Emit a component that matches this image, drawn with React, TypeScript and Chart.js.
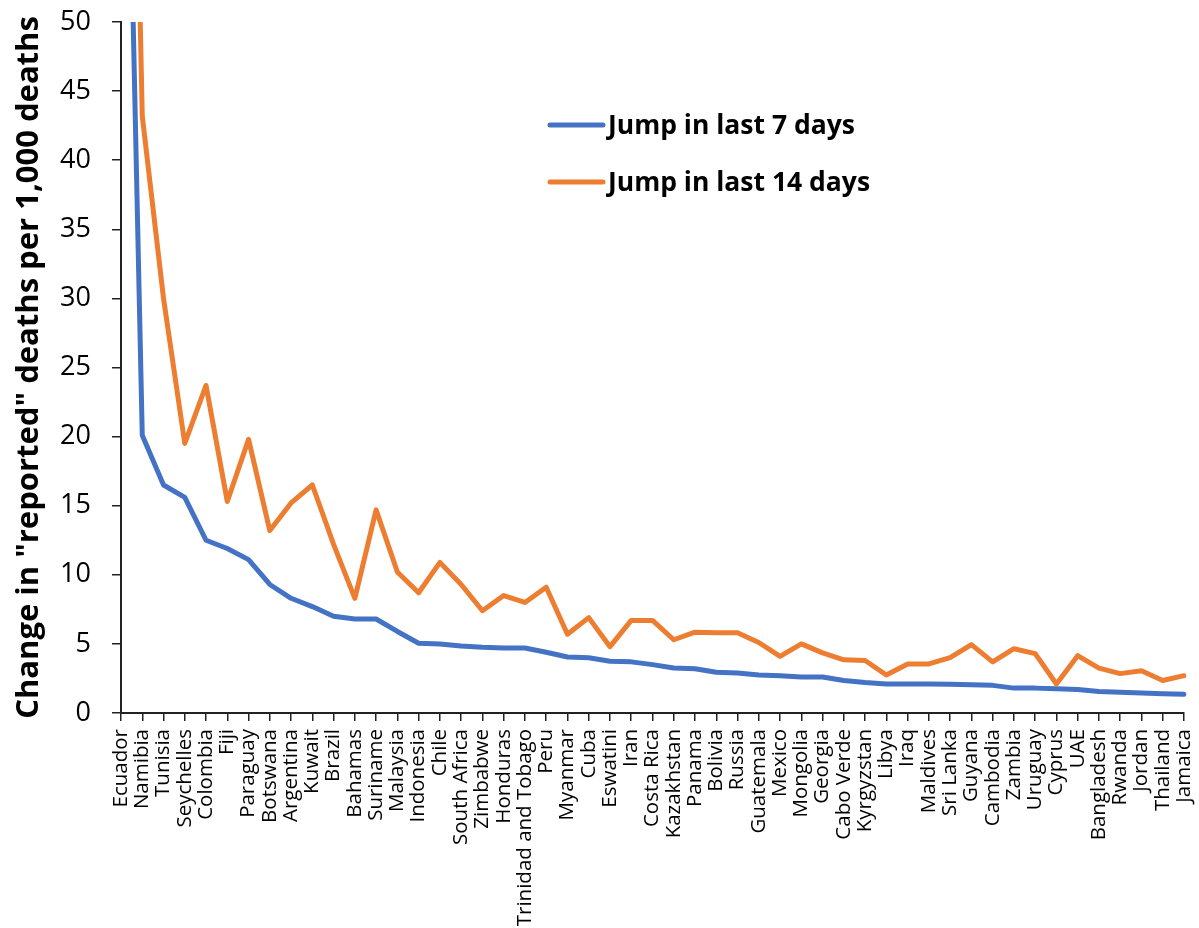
import React, { useEffect, useRef } from "react";
import { Chart, registerables } from "chart.js";

Chart.register(...registerables);

const countries = [
  "Ecuador", "Namibia", "Tunisia", "Seychelles", "Colombia", "Fiji", "Paraguay", "Botswana",
  "Argentina", "Kuwait", "Brazil", "Bahamas", "Suriname", "Malaysia", "Indonesia", "Chile",
  "South Africa", "Zimbabwe", "Honduras", "Trinidad and Tobago", "Peru", "Myanmar", "Cuba",
  "Eswatini", "Iran", "Costa Rica", "Kazakhstan", "Panama", "Bolivia", "Russia", "Guatemala",
  "Mexico", "Mongolia", "Georgia", "Cabo Verde", "Kyrgyzstan", "Libya", "Iraq", "Maldives",
  "Sri Lanka", "Guyana", "Cambodia", "Zambia", "Uruguay", "Cyprus", "UAE", "Bangladesh",
  "Rwanda", "Jordan", "Thailand", "Jamaica",
];

const jump7 = [
  90, 20.1, 16.5, 15.6, 12.5, 11.9, 11.1, 9.3, 8.3, 7.7, 7.0, 6.8, 6.8, 5.9, 5.05, 5.0,
  4.85, 4.75, 4.7, 4.7, 4.4, 4.05, 4.0, 3.75, 3.7, 3.5, 3.25, 3.2, 2.95, 2.9, 2.75,
  2.7, 2.6, 2.6, 2.35, 2.2, 2.1, 2.1, 2.1, 2.08, 2.05, 2.0, 1.8, 1.8, 1.75, 1.7, 1.55,
  1.5, 1.45, 1.4, 1.35,
];

const jump14 = [
  115, 43.2, 30.0, 19.5, 23.7, 15.3, 19.8, 13.2, 15.2, 16.5, 12.2, 8.3, 14.7, 10.2, 8.7, 10.9,
  9.3, 7.4, 8.5, 8.0, 9.1, 5.7, 6.9, 4.8, 6.7, 6.7, 5.3, 5.85, 5.8, 5.8, 5.1,
  4.1, 5.0, 4.35, 3.85, 3.8, 2.75, 3.55, 3.55, 4.0, 4.95, 3.7, 4.65, 4.3, 2.1, 4.15, 3.25,
  2.85, 3.05, 2.35, 2.7,
];

const seriesLabels = ["Jump in last 7 days", "Jump in last 14 days"];
const seriesColors = ["#4472C4", "#ED7D31"];
const yTitle = 'Change in "reported" deaths per 1,000 deaths';

const legendPlugin = {
  id: "insideLegend",
  afterDraw(chart: any) {
    const ctx = chart.ctx;
    const items = [
      { x: 550, y: 125 },
      { x: 550, y: 182 },
    ];
    ctx.save();
    chart.data.datasets.forEach((ds: any, i: number) => {
      const p = items[i];
      ctx.strokeStyle = ds.borderColor;
      ctx.lineWidth = 5;
      ctx.lineCap = "round";
      ctx.beginPath();
      ctx.moveTo(p.x, p.y);
      ctx.lineTo(p.x + 53, p.y);
      ctx.stroke();
      ctx.fillStyle = "#000";
      ctx.font = "bold 26.5px 'Open Sans'";
      ctx.textBaseline = "middle";
      ctx.textAlign = "left";
      ctx.fillText(ds.label, p.x + 58, p.y + 1);
    });
    ctx.restore();
  },
};

export default function App() {
  const ref = useRef<HTMLCanvasElement | null>(null);
  useEffect(() => {
    if (!ref.current) return;
    const chart = new Chart(ref.current, {
      type: "line",
      data: {
        labels: countries,
        datasets: [
          {
            label: seriesLabels[0],
            data: jump7,
            borderColor: seriesColors[0],
            backgroundColor: seriesColors[0],
            borderWidth: 5,
            pointRadius: 0,
            tension: 0,
            borderJoinStyle: "round",
            borderCapStyle: "round",
            order: 1,
          },
          {
            label: seriesLabels[1],
            data: jump14,
            borderColor: seriesColors[1],
            backgroundColor: seriesColors[1],
            borderWidth: 5,
            pointRadius: 0,
            tension: 0,
            borderJoinStyle: "round",
            borderCapStyle: "round",
            order: 0,
          },
        ],
      },
      options: {
        animation: false,
        responsive: true,
        maintainAspectRatio: false,
        layout: { padding: { top: 22, right: 15, left: 0, bottom: 0 } },
        plugins: {
          legend: { display: false },
          tooltip: { enabled: false },
        },
        scales: {
          x: {
            type: "category",
            offset: false,
            grid: {
              display: true,
              drawOnChartArea: false,
              drawTicks: true,
              tickLength: 8,
              color: "#222",
              lineWidth: 1.5,
            },
            border: { display: true, color: "#222", width: 2 },
            ticks: {
              autoSkip: false,
              maxRotation: 90,
              minRotation: 90,
              padding: 8,
              color: "#000",
              font: { family: "'Open Sans'", size: 20.5 },
            },
            afterFit: (s: any) => {
              s.height = 215;
              s.paddingLeft = 0;
              s.paddingRight = 0;
            },
          },
          y: {
            min: 0,
            max: 50,
            grid: {
              display: true,
              drawOnChartArea: false,
              drawTicks: true,
              tickLength: 9,
              color: "#222",
              lineWidth: 1.5,
            },
            border: { display: true, color: "#222", width: 2 },
            ticks: {
              stepSize: 5,
              padding: 21,
              color: "#000",
              font: { family: "'Open Sans'", size: 27 },
            },
            title: {
              display: true,
              text: yTitle,
              color: "#000",
              font: { family: "'Open Sans'", size: 31, weight: "bold" },
              padding: { top: 11, bottom: 0 },
            },
            afterFit: (s: any) => {
              s.width = 121;
              s.paddingTop = 0;
              s.paddingBottom = 0;
            },
          },
        },
      },
      plugins: [legendPlugin],
    });
    return () => chart.destroy();
  }, []);
  return (
    <div style={{ position: "fixed", left: 0, top: 0, width: 1199, height: 928, background: "#fff" }}>
      <canvas ref={ref} />
    </div>
  );
}
